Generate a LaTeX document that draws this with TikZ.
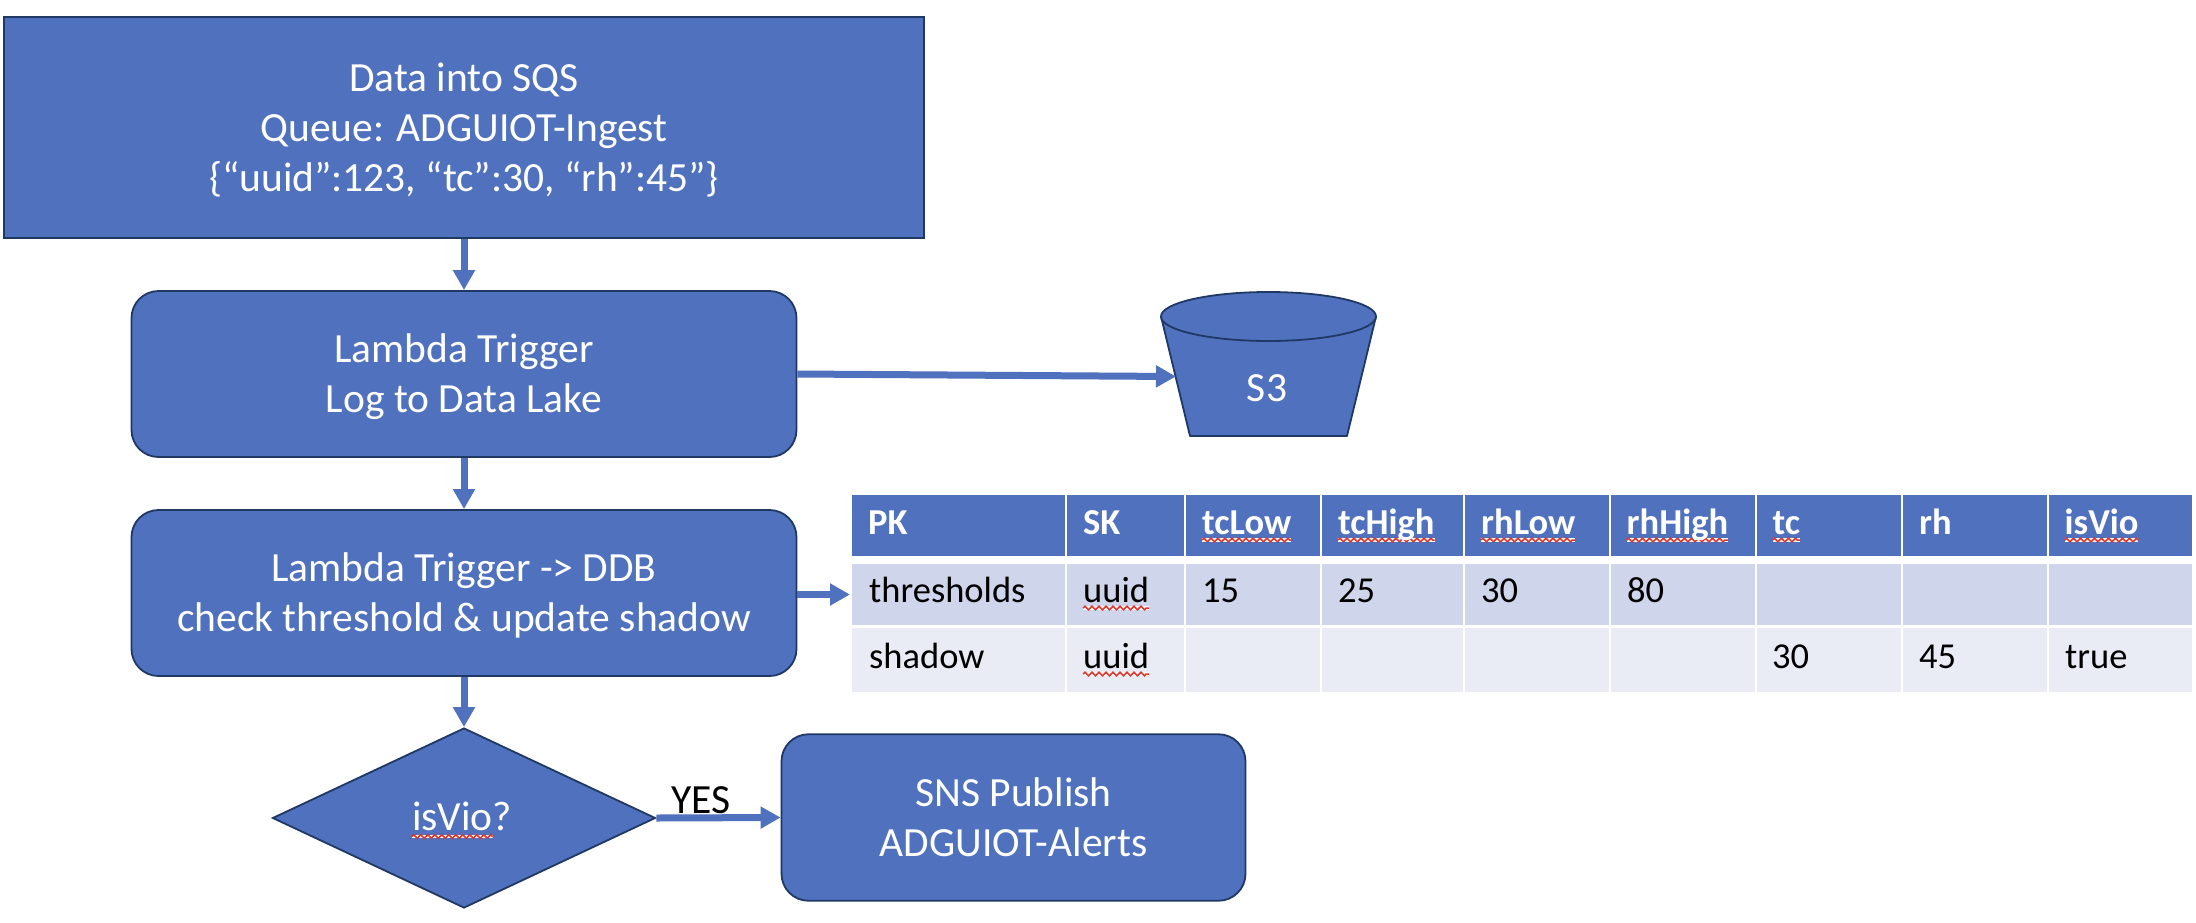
\documentclass[tikz,border=0pt]{standalone}
\usepackage{fontspec}
\setmainfont{Carlito}
\usetikzlibrary{arrows.meta,shapes.geometric,decorations.pathmorphing}
\definecolor{bluefill}{HTML}{4F71BE}
\definecolor{blueedge}{HTML}{1F3864}
\definecolor{rowa}{HTML}{CFD5EA}
\definecolor{rowb}{HTML}{E9EBF5}
\definecolor{squigred}{HTML}{E0352B}
\newlength\sqwidth
\newcommand\sq[1]{\settowidth\sqwidth{#1}\tikz[overlay,baseline=0pt,x=1pt,y=1pt]{%
\draw[white,line width=3.5pt] (0,-6)--(\the\sqwidth,-6);%
\draw[squigred,line width=1.5pt,decorate,decoration={zigzag,segment length=7pt,amplitude=1.8pt}] (0,-6)--(\the\sqwidth,-6);}#1}
\newcommand\firstln{\rule{0pt}{40pt}}
\newcommand\lastln{\rule[-13pt]{0pt}{13pt}}
\tikzset{
 bluebox/.style={draw=blueedge,fill=bluefill,line width=1.8pt,text=white,align=center,inner sep=0pt,
   font=\fontsize{41.5}{50}\selectfont},
 roundbox/.style={bluebox,rounded corners=27pt},
 flow/.style={draw=bluefill,line width=7pt,-{Triangle[width=21pt,length=20pt]}},
 cella/.style={draw=white,line width=2pt,fill=rowa,minimum height=63pt},
 cellb/.style={draw=white,line width=2pt,fill=rowb,minimum height=66pt},
 cellh/.style={draw=white,line width=2pt,fill=bluefill,minimum height=64pt},
 cw/.style={inner sep=0pt,minimum width=#1},
 tabtext/.style={anchor=base west,inner sep=0pt,font=\fontsize{36.5}{44}\selectfont},
 tabhead/.style={tabtext,text=white,font=\fontsize{36.5}{44}\selectfont\bfseries},
}
\begin{document}
\begin{tikzpicture}[x=1pt,y=-1pt]
\path[use as bounding box,fill=white] (0,0) rectangle (2196,922);

\node[bluebox,minimum width=920pt,minimum height=221pt] (data) at (464,127.5)
 {\firstln Data into SQS\\Queue: ADGUIOT-Ingest\\\{“uuid”:123, “tc”:30, “rh”:45”\}\lastln};
\node[roundbox,minimum width=665pt,minimum height=166pt] (lam1) at (464,374)
 {\firstln Lambda Trigger\\Log to Data Lake\lastln};
\node[roundbox,minimum width=665pt,minimum height=166pt] (lam2) at (464,593)
 {\firstln Lambda Trigger -> DDB\\check threshold \& update shadow\lastln};
\node[bluebox,diamond,shape aspect=2.13,minimum width=383pt,minimum height=180pt] (dec) at (464,818) {};
\node[anchor=base,inner sep=0pt,text=white,font=\fontsize{41.5}{50}\selectfont] (dectext) at (462,830.5) {\sq{isVio}?};
\node[roundbox,minimum width=464pt,minimum height=166.5pt] (sns) at (1013.5,817.5)
 {\firstln SNS Publish\\ADGUIOT-Alerts\lastln};

% S3 bucket
\draw[draw=blueedge,fill=bluefill,line width=1.8pt,line join=round] (1161,316.5) -- (1190,436) -- (1347,436) -- (1376,316.5) -- cycle;
\draw[draw=blueedge,fill=bluefill,line width=1.8pt] (1268.5,316.5) ellipse [x radius=107.5,y radius=24.5];
\node[anchor=base,text=white,inner sep=0pt,font=\fontsize{41.5}{50}\selectfont] (s3) at (1267,401) {S3};
\coordinate (s3in) at (1176,376.5);

% table
\foreach \nm/\xa/\xb/\lab in {a/851/1066/PK,b/1066/1185/SK,c/1185/1321/\sq{tcLow},d/1321/1464/\sq{tcHigh},e/1464/1609.5/\sq{rhLow},f/1609.5/1755.5/\sq{rhHigh},g/1755.5/1902/\sq{tc},h/1902/2047.5/rh,i/2047.5/2193/\sq{isVio}}{
 \pgfmathsetmacro\wid{\xb-\xa}
 \pgfmathsetmacro\mid{(\xa+\xb)/2}
 \node[cellh,cw=\wid pt] (h\nm) at (\mid,525.5) {};
 \node[cella,cw=\wid pt] (r\nm) at (\mid,594.5) {};
 \node[cellb,cw=\wid pt] (s\nm) at (\mid,660) {};
 \pgfmathsetmacro\tx{\xa+17}
 \node[tabhead] (ht\nm) at (\tx,534) {\lab};
}
\draw[white,line width=6pt] (ha.south west) -- (hi.south east);

\node[tabtext] (t1) at (869,602) {thresholds};
\node[tabtext] (t2) at (1083,602) {\sq{uuid}};
\node[tabtext] (t3) at (1202,602) {15};
\node[tabtext] (t4) at (1338,602) {25};
\node[tabtext] (t5) at (1481,602) {30};
\node[tabtext] (t6) at (1627,602) {80};
\node[tabtext] (u1) at (869,668) {shadow};
\node[tabtext] (u2) at (1083,668) {\sq{uuid}};
\node[tabtext] (u3) at (1772,668) {30};
\node[tabtext] (u4) at (1919,668) {45};
\node[tabtext] (u5) at (2065,668) {true};

% connectors
\draw[flow] (data.south -| lam1.north) -- (lam1.north);
\draw[flow] (lam1.south) -- (lam2.north);
\draw[flow] (lam2.south) -- (dec.north);
\draw[flow] (lam1.east) -- (s3in);
\draw[flow] (lam2.east |- ra.west) -- (ra.west);
\draw[flow] (dec.east) -- (sns.west);
\node[anchor=base west,inner sep=0pt,font=\fontsize{41.5}{50}\selectfont] (yes) at (671,813) {YES};
\end{tikzpicture}
\end{document}
